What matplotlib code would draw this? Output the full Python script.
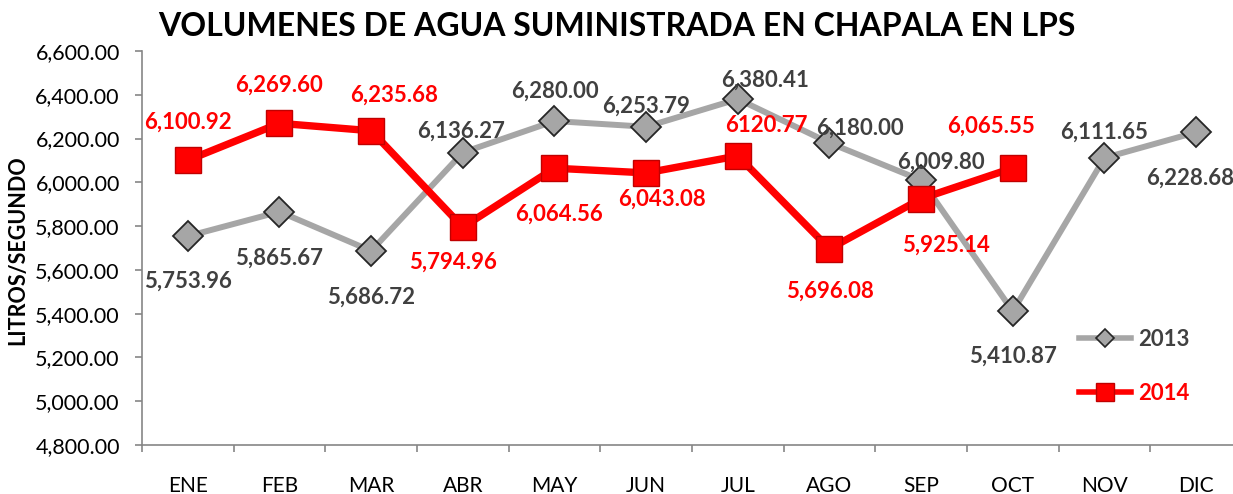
import matplotlib
matplotlib.use('Agg')
import matplotlib.pyplot as plt
from matplotlib.lines import Line2D
from matplotlib.ticker import FixedLocator, FuncFormatter

# ---------------- data ----------------
months = ['ENE', 'FEB', 'MAR', 'ABR', 'MAY', 'JUN', 'JUL', 'AGO', 'SEP', 'OCT', 'NOV', 'DIC']
vals_2013 = [5753.96, 5865.67, 5686.72, 6136.27, 6280.00, 6253.79,
             6380.41, 6180.00, 6009.80, 5410.87, 6111.65, 6228.68]
vals_2014 = [6100.92, 6269.60, 6235.68, 5794.96, 6064.56, 6043.08,
             6120.77, 5696.08, 5925.14, 6065.55]
yticks = [4800, 5000, 5200, 5400, 5600, 5800, 6000, 6200, 6400, 6600]
series_names = ['2013', '2014']

labels_2013 = [f"{v:,.2f}" for v in vals_2013]
no_comma_2014 = {6}  # JUL label shown without thousands separator
labels_2014 = [(f"{v:.2f}" if i in no_comma_2014 else f"{v:,.2f}") for i, v in enumerate(vals_2014)]

# ---------------- layout / style ----------------
# label offsets in pixels (dx, dy), dy positive = up
off_2013 = [(0, -43), (0, -44), (0, -44), (-2, 23), (0, 32), (0, 23),
            (27, 21), (30, 17), (20, 20), (0, -43), (0, 28), (-6, -44)]
off_2014 = [(0, 40), (0, 40), (23, 38), (-10, -33), (5, -44), (16, -24),
            (29, 32), (1, -40), (25, -44), (-22, 44)]

GRAY = '#A6A6A6'
DARK = '#404040'
RED = '#FF0000'

plt.rcParams['font.family'] = ['Lato', 'DejaVu Sans']

W, H = 1233, 494
fig = plt.figure(figsize=(W / 100, H / 100), dpi=100)
ax = fig.add_axes([142 / W, 1 - 445 / H, 1100 / W, (445 - 51) / H])

x13 = list(range(len(vals_2013)))
x14 = list(range(len(vals_2014)))

ax.plot(x13, vals_2013, color=GRAY, lw=4.3, marker='D', ms=15.5,
        mfc=GRAY, mec='#262626', mew=1.3, zorder=3, clip_on=False)
ax.plot(x14, vals_2014, color=RED, lw=5.3, marker='s', ms=19,
        mfc=RED, mec='#C00000', mew=1.0, zorder=4, clip_on=False)

for xi, v, lab, (dx, dy) in zip(x13, vals_2013, labels_2013, off_2013):
    ax.annotate(lab, (xi, v), xytext=(dx, dy), textcoords='offset pixels',
                ha='center', va='center_baseline', fontsize=16, fontweight='bold',
                color=DARK, zorder=6, annotation_clip=False)
for xi, v, lab, (dx, dy) in zip(x14, vals_2014, labels_2014, off_2014):
    ax.annotate(lab, (xi, v), xytext=(dx, dy), textcoords='offset pixels',
                ha='center', va='center_baseline', fontsize=16, fontweight='bold',
                color=RED, zorder=6, annotation_clip=False)

ax.set_xlim(-0.5, len(months) - 0.5)
ax.set_ylim(yticks[0], yticks[-1])

ax.yaxis.set_major_locator(FixedLocator(yticks))
ax.yaxis.set_major_formatter(FuncFormatter(lambda v, p: f"{v:,.2f}"))
ax.set_xticks(x13)
ax.set_xticklabels(months)
ax.set_xticks([i - 0.5 for i in range(len(months) + 1)], minor=True)

for s in ['top', 'right']:
    ax.spines[s].set_visible(False)
for s in ['left', 'bottom']:
    ax.spines[s].set_color('#868686')
    ax.spines[s].set_linewidth(1.2)

ax.tick_params(axis='y', which='major', length=5, width=1.2, color='#868686',
               labelsize=15.5, labelcolor='black', pad=11)
ax.tick_params(axis='x', which='major', length=0, labelsize=15,
               labelcolor='black', pad=22)
ax.tick_params(axis='x', which='minor', length=5, width=1.2, color='#868686')

fig.text(617 / W, 1 - 27 / H, 'VOLUMENES DE AGUA SUMINISTRADA EN CHAPALA EN LPS',
         ha='center', va='center', fontsize=23, fontweight='bold', color='black')
fig.text(18 / W, 1 - 250 / H, 'LITROS/SEGUNDO', rotation=90, ha='center',
         va='center', fontsize=15.5, fontweight='bold', color='black')

handles = [
    Line2D([], [], color=GRAY, lw=4, marker='D', ms=9, mfc=GRAY, mec='#262626', mew=1.2),
    Line2D([], [], color=RED, lw=4, marker='s', ms=13, mfc=RED, mec='#C00000', mew=1.0),
]
leg = fig.legend(handles, series_names, loc='upper left',
                 bbox_to_anchor=(1070 / W, 1 - 320 / H), frameon=False,
                 prop={'size': 16, 'weight': 'bold'}, handlelength=2.35,
                 handletextpad=0.3, labelspacing=1.5, borderaxespad=0)
for t, c in zip(leg.get_texts(), [DARK, RED]):
    t.set_color(c)

fig.savefig('out.png', dpi=100)
